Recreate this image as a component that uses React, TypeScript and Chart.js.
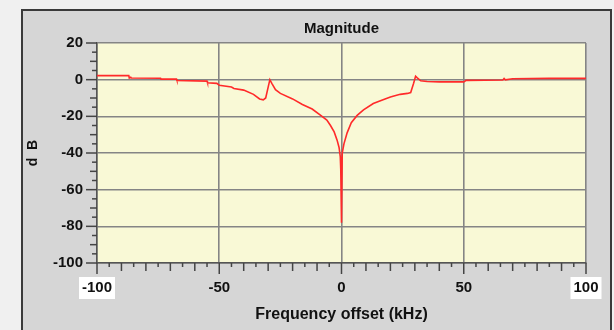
import React, { useEffect, useRef } from "react";
import { Chart, registerables } from "chart.js";

Chart.register(...registerables);

const freqKHz = [
  -100, -87, -86.8, -86.2, -86, -74, -73.8, -67.5, -67.3, -55, -54.8, -51, -50, -45, -44, -40, -36, -33.5, -32, -31,
  -29.3, -28.5, -27, -25, -20, -16, -12, -8.5, -6, -4.5, -3, -1.8, -1, -0.5, -0.3, 0, 0.3, 1, 2.3, 4, 6.4, 9, 13, 17,
  20, 24, 27, 28.3, 29.5, 30.3, 31, 32.4, 35, 40, 50, 51, 66, 66.5, 67, 70, 85, 100,
];
const magnitudeDb = [
  2.2, 2.2, 0.9, 1.3, 0.9, 0.8, 0.3, 0.3, -0.5, -0.8, -1.7, -2.0, -3.0, -4.0, -4.8, -5.7, -8.0, -10.5, -11, -10,
  0, -2, -5.5, -7.5, -10.5, -13.5, -16, -19.5, -22, -25, -28.5, -33, -37, -42, -49, -78, -40, -35, -29, -23.5, -19.5,
  -16.5, -13, -11, -9.4, -8, -7.5, -7, -2, 1.9, 1, -0.6, -1.0, -1.2, -1.2, -0.4, -0.2, 0.6, -0.1, 0.5, 0.7, 0.7,
];
const xTickValues = [-100, -50, 0, 50, 100];
const yTickValues = [-100, -80, -60, -40, -20, 0, 20];

const font = "'Liberation Sans', Arial, sans-serif";

const plotBg = {
  id: "plotBg",
  beforeDraw(chart: any) {
    const { ctx, chartArea } = chart;
    ctx.save();
    ctx.fillStyle = "#f9f9d6";
    ctx.fillRect(chartArea.left, chartArea.top, chartArea.right - chartArea.left, chartArea.bottom - chartArea.top);
    ctx.restore();
  },
};

const minorTicks = {
  id: "minorTicks",
  afterDraw(chart: any) {
    const { ctx, chartArea } = chart;
    const xs = chart.scales.x;
    const ys = chart.scales.y;
    ctx.save();
    ctx.strokeStyle = "#444";
    ctx.lineWidth = 1.5;
    for (let v = xs.min; v <= xs.max + 0.001; v += 5) {
      const px = xs.getPixelForValue(v);
      const len = v % 50 === 0 ? 11 : v % 10 === 0 ? 8 : 4;
      ctx.beginPath();
      ctx.moveTo(px, chartArea.bottom);
      ctx.lineTo(px, chartArea.bottom + len);
      ctx.stroke();
    }
    for (let v = ys.min; v <= ys.max + 0.001; v += 5) {
      const py = ys.getPixelForValue(v);
      const len = v % 20 === 0 ? 11 : v % 10 === 0 ? 7 : 5;
      ctx.beginPath();
      ctx.moveTo(chartArea.left, py);
      ctx.lineTo(chartArea.left - len, py);
      ctx.stroke();
    }
    ctx.restore();
  },
};

export default function App() {
  const ref = useRef<HTMLCanvasElement | null>(null);
  useEffect(() => {
    if (!ref.current) return;
    const chart = new Chart(ref.current, {
      type: "line",
      data: {
        datasets: [
          {
            data: freqKHz.map((f, i) => ({ x: f, y: magnitudeDb[i] })),
            borderColor: "#ff2a2a",
            borderWidth: 1.6,
            pointRadius: 0,
            tension: 0,
            xAxisID: "x",
            yAxisID: "y",
          },
        ],
      },
      options: {
        animation: false,
        responsive: false,
        layout: { padding: { left: 22, top: 10, right: 28, bottom: 0 } },
        plugins: {
          legend: { display: false },
          tooltip: { enabled: false },
          title: { display: false },
        },
        scales: {
          xTop: {
            type: "linear",
            position: "top",
            min: -100,
            max: 100,
            grid: { display: false, drawTicks: false },
            border: { display: false },
            ticks: { display: false },
            afterFit: (s: any) => {
              s.height = 33;
              s.paddingLeft = 0;
              s.paddingRight = 0;
            },
            title: {
              display: true,
              text: "Magnitude",
              color: "#111",
              font: { family: font, size: 15, weight: "bold" },
              padding: { top: 10, bottom: 0 },
            },
          },
          x: {
            type: "linear",
            position: "bottom",
            min: -100,
            max: 100,
            afterBuildTicks: (s: any) => {
              s.ticks = xTickValues.map((v) => ({ value: v }));
            },
            afterFit: (s: any) => {
              s.height = 67;
              s.paddingLeft = 0;
              s.paddingRight = 0;
            },
            grid: { color: "#858585", lineWidth: 1.6, drawTicks: false },
            border: { display: true, color: "#555", width: 1.5 },
            ticks: {
              padding: 16,
              maxRotation: 0,
              color: "#111",
              font: { family: font, size: 15, weight: "bold" },
              showLabelBackdrop: true,
              backdropPadding: { left: 3, right: 3, top: 2, bottom: 2 },
              backdropColor: (c: any) => (Math.abs(c.tick?.value) === 100 ? "#ffffff" : "rgba(0,0,0,0)"),
            },
            title: {
              display: true,
              text: "Frequency offset (kHz)",
              color: "#111",
              font: { family: font, size: 16, weight: "bold" },
              padding: { top: 0, bottom: 6 },
            },
          },
          y: {
            min: -100,
            max: 20,
            afterBuildTicks: (s: any) => {
              s.ticks = yTickValues.map((v) => ({ value: v }));
            },
            afterFit: (s: any) => {
              s.width = 75;
              s.paddingTop = 0;
              s.paddingBottom = 0;
            },
            grid: { color: "#858585", lineWidth: 1.6, drawTicks: false },
            border: { display: true, color: "#555", width: 1.5 },
            ticks: {
              padding: 14,
              color: "#111",
              font: { family: font, size: 15, weight: "bold" },
            },
            title: {
              display: true,
              text: "d  B",
              color: "#111",
              font: { family: font, size: 14, weight: "bold" },
              padding: { top: 3, bottom: 0 },
            },
          },
        },
      },
      plugins: [plotBg, minorTicks],
    } as any);
    return () => chart.destroy();
  }, []);

  return (
    <div
      style={{
        position: "fixed",
        left: 0,
        top: 0,
        width: 614,
        height: 330,
        background: "#f0f0f0",
        overflow: "hidden",
      }}
    >
      <div
        style={{
          position: "absolute",
          left: 21,
          top: 9,
          width: 587,
          height: 340,
          background: "#d6d6d6",
          borderTop: "2px solid #3a3a3a",
          borderLeft: "2px solid #3a3a3a",
          borderRight: "2px solid #3a3a3a",
        }}
      />
      <canvas ref={ref} width={614} height={330} style={{ position: "absolute", left: 0, top: 0 }} />
    </div>
  );
}
